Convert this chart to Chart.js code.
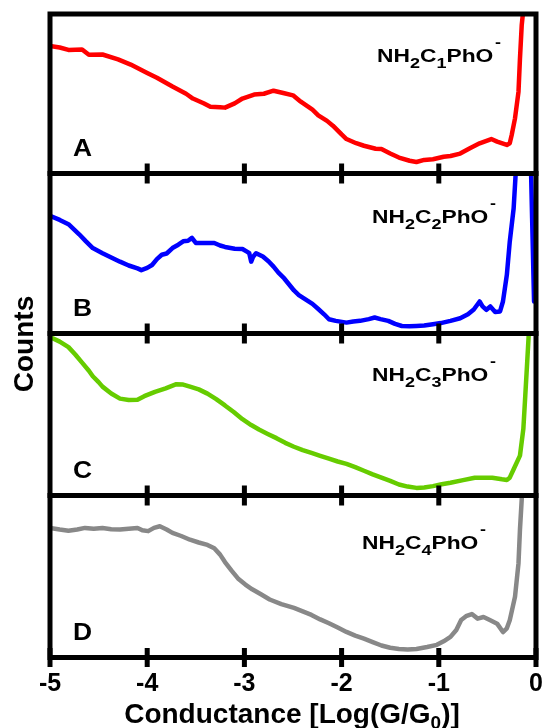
<!DOCTYPE html>
<html><head><meta charset="utf-8">
<script src="https://cdn.jsdelivr.net/npm/chart.js@4"></script>
<style>html,body{margin:0;padding:0;background:#fff}canvas{display:block}</style>
</head><body>
<canvas id="c" width="542" height="728"></canvas>
<script>
const FONT = '"Liberation Sans", Arial, Helvetica, sans-serif';
const xTicks = [-5, -4, -3, -2, -1, 0];
const panelLetters = ['A', 'B', 'C', 'D'];
const chainLengths = ['1', '2', '3', '4'];
const colors = ['#ff0000', '#0000ff', '#66cc00', '#888888'];

const xA = [-5.0,-4.9,-4.81,-4.67,-4.6,-4.46,-4.3,-4.17,-4.0,-3.9,-3.74,-3.6,-3.53,-3.42,-3.35,-3.25,-3.2,-3.1,-3.02,-2.9,-2.8,-2.7,-2.6,-2.5,-2.42,-2.3,-2.24,-2.15,-2.09,-2.0,-1.95,-1.85,-1.77,-1.65,-1.59,-1.5,-1.41,-1.3,-1.23,-1.15,-1.06,-0.95,-0.88,-0.78,-0.68,-0.58,-0.46,-0.40,-0.30,-0.27,-0.25,-0.216,-0.18,-0.165,-0.147,-0.13,-0.11];
const yA = [80,79,77.5,77.8,74.5,74.6,71.5,68.3,63,60,54.5,50,47,44,41.8,41.5,41.3,44,47,49.5,50,51.9,50.5,49,45,40,36.5,33,30,24.5,21.6,19,17.4,15.5,15.3,12.5,10,8,7.2,8.5,8.9,10.5,11,12.5,15.8,18.9,21.6,20,17.9,18.9,24.1,34.6,51.3,72,92.9,103,130];

const xB = [-5.0,-4.9,-4.81,-4.7,-4.63,-4.56,-4.46,-4.37,-4.28,-4.19,-4.1,-4.06,-4.0,-3.95,-3.9,-3.85,-3.8,-3.74,-3.68,-3.63,-3.58,-3.54,-3.5,-3.4,-3.31,-3.25,-3.2,-3.1,-3.02,-2.97,-2.95,-2.93,-2.91,-2.88,-2.81,-2.75,-2.7,-2.65,-2.59,-2.49,-2.44,-2.38,-2.3,-2.24,-2.18,-2.13,-2.06,-1.95,-1.88,-1.81,-1.72,-1.66,-1.6,-1.52,-1.45,-1.38,-1.3,-1.23,-1.15,-1.06,-0.98,-0.88,-0.78,-0.7,-0.64,-0.58,-0.55,-0.51,-0.47,-0.42,-0.37,-0.34,-0.3,-0.27,-0.23,-0.21,-0.17,-0.06,-0.04,-0.02];
const yB = [73.6,71,68.3,62,57.6,53.4,50.2,47.5,44.9,42.5,40.7,39.6,41,42.8,46.5,49.2,50,53.4,55.5,57.6,58,59.8,56.6,56.6,56.6,55,54.1,53,52.8,51,50.2,44.9,48,50.2,48.1,45,41.8,38,34.4,26.9,24,21.6,18.5,15.3,12,8.9,7.9,6.8,7.5,7.9,9,10,9,7.9,6,4.7,4.5,4.7,5,5.8,6.5,7.9,9.5,12,15,20,17,14.8,16.9,13.4,13.8,20,36.6,57.4,78.2,99,125,125,72,20];

const xC = [-5.0,-4.9,-4.81,-4.74,-4.67,-4.6,-4.56,-4.5,-4.46,-4.37,-4.28,-4.19,-4.1,-4.03,-3.92,-3.81,-3.7,-3.63,-3.56,-3.47,-3.38,-3.29,-3.2,-3.11,-3.02,-2.93,-2.85,-2.76,-2.67,-2.58,-2.49,-2.4,-2.31,-2.22,-2.13,-2.04,-1.95,-1.86,-1.77,-1.68,-1.59,-1.5,-1.41,-1.32,-1.23,-1.15,-1.06,-0.97,-0.88,-0.75,-0.63,-0.55,-0.45,-0.35,-0.3,-0.27,-0.23,-0.165,-0.13,-0.11,-0.09,-0.075,-0.06];
const yC = [97.9,95,91.6,87,82,77,73.6,70,67.2,63,59.8,59,59.1,61.3,64,66.1,68.7,68.5,67.2,65.5,62.9,59.5,55.6,51.5,47.1,43.5,40.7,38,35.4,32.5,30.1,28,26.3,24.5,22.7,21,19.5,17.5,15.3,13,11,9,6.8,5.5,4.7,5,5.8,7,7.9,9.5,11,11,11,10,9.6,11,16.2,24.6,41.2,62,82.9,99,120];

const xD = [-5.0,-4.9,-4.81,-4.72,-4.64,-4.55,-4.46,-4.37,-4.28,-4.19,-4.1,-4.05,-3.99,-3.93,-3.87,-3.8,-3.74,-3.65,-3.56,-3.47,-3.38,-3.31,-3.25,-3.2,-3.13,-3.06,-2.99,-2.92,-2.83,-2.74,-2.62,-2.49,-2.4,-2.31,-2.22,-2.13,-2.04,-1.95,-1.86,-1.77,-1.68,-1.59,-1.5,-1.41,-1.32,-1.23,-1.12,-1.02,-0.95,-0.88,-0.82,-0.77,-0.72,-0.66,-0.6,-0.54,-0.47,-0.4,-0.34,-0.3,-0.27,-0.216,-0.18,-0.165,-0.147,-0.13];
const yD = [80,79,78.3,79,80,79.5,80,79.2,79,79.5,80,78.5,78,80,81,79,76.9,75,72.7,71,69.5,67.4,63.5,58.9,53.5,48.4,45,42.1,39,35.8,33,30.6,28.5,26.3,23.5,21.1,18.5,15.8,13.5,11.6,9.5,7.4,6,5.3,5,5.3,6.5,7.8,10,12.7,17,23.2,25.5,26.8,24,25,23,20.9,15.7,18,23,37.5,58.2,78.9,97.5,120];

const panelIds = ['yA', 'yB', 'yC', 'yD'];
const panelWeights = [159.5, 160, 162, 162];
const seriesX = [xA, xB, xC, xD];
const seriesY = [yA, yB, yC, yD];

const datasets = panelIds.map((id, i) => ({
  data: seriesX[i].map((x, k) => ({ x: x, y: seriesY[i][k] })),
  yAxisID: id,
  xAxisID: 'x',
  borderColor: colors[i],
  borderWidth: 4.5,
  pointRadius: 0,
  tension: 0,
  borderJoinStyle: 'round',
  borderCapStyle: 'round',
  fill: false
}));

function yScale(w) {
  return {
    type: 'linear', position: 'left', stack: 'panels', stackWeight: w,
    min: 0, max: 100,
    ticks: { display: false },
    grid: { display: false, drawTicks: false },
    border: { display: false },
    afterFit(s) { s.width = 50; }
  };
}
const scales = {
  x: {
    type: 'linear', position: 'bottom', min: -5, max: 0,
    afterBuildTicks(s) { s.ticks = xTicks.map(v => ({ value: v })); },
    ticks: { color: '#000', font: { family: FONT, size: 25, weight: 'bold' }, padding: 12, maxRotation: 0, autoSkip: false },
    grid: { display: false, drawTicks: false },
    border: { display: false },
    afterFit(s) { s.height = 70.5; s.paddingLeft = 0; s.paddingRight = 0; }
  }
};
// stacked left axes are laid out in reverse definition order: define bottom panel first
[3, 2, 1, 0].forEach(i => { scales[panelIds[i]] = yScale(panelWeights[i]); });

function drawFormula(ctx, x, baseline, idx) {
  const F = 19, S = 15, sx = 1.2;
  ctx.save();
  ctx.translate(x, baseline);
  ctx.scale(sx, 1);
  ctx.fillStyle = '#000';
  ctx.textBaseline = 'alphabetic';
  ctx.textAlign = 'left';
  const parts = [['NH', 0, F, 0], ['2', 6, S, 0], ['C', 0, F, 0], [idx, 6, S, 0], ['PhO', 0, F, 0], ['-', -15, S, 1.5]];
  let cx = 0;
  parts.forEach(([t, dy, sz, gap]) => {
    ctx.font = 'bold ' + sz + 'px ' + FONT;
    cx += gap;
    ctx.fillText(t, cx, dy);
    cx += ctx.measureText(t).width;
  });
  ctx.restore();
}

const framePlugin = {
  id: 'frame',
  afterDatasetsDraw(chart) {
    const ctx = chart.ctx, ca = chart.chartArea, xs = chart.scales.x;
    ctx.save();
    ctx.strokeStyle = '#000';
    ctx.lineWidth = 5;
    panelIds.forEach(id => {
      const s = chart.scales[id];
      ctx.strokeRect(ca.left, s.top, ca.right - ca.left, s.bottom - s.top);
    });
    ctx.beginPath();
    panelIds.slice(1).forEach(id => {
      const b = chart.scales[id].top;
      xTicks.slice(1, -1).forEach(v => {
        const X = xs.getPixelForValue(v);
        ctx.moveTo(X, b - 10); ctx.lineTo(X, b + 10);
      });
    });
    const bottom = chart.scales[panelIds[3]].bottom;
    xTicks.forEach(v => {
      const X = xs.getPixelForValue(v);
      ctx.moveTo(X, bottom - 9.5); ctx.lineTo(X, bottom + 9.5);
    });
    ctx.stroke();
    ctx.restore();
  },
  afterDraw(chart) {
    const ctx = chart.ctx;
    ctx.save();
    ctx.fillStyle = '#000';
    const formulaPos = [[377, 62], [372, 223], [372, 381], [362, 549]];
    panelIds.forEach((id, i) => {
      const s = chart.scales[id];
      ctx.save();
      ctx.translate(73, s.bottom - 18);
      ctx.scale(1.1, 1);
      ctx.font = 'bold 24px ' + FONT;
      ctx.textAlign = 'left';
      ctx.textBaseline = 'alphabetic';
      ctx.fillText(panelLetters[i], 0, 0);
      ctx.restore();
      drawFormula(ctx, formulaPos[i][0], formulaPos[i][1], chainLengths[i]);
    });
    ctx.save();
    ctx.translate(33, 344);
    ctx.rotate(-Math.PI / 2);
    ctx.font = 'bold 28px ' + FONT;
    ctx.textAlign = 'center';
    ctx.textBaseline = 'alphabetic';
    ctx.fillText('Counts', 0, 0);
    ctx.restore();
    const F = 28, S = 19;
    const t1 = 'Conductance [Log(G/G', t2 = '0', t3 = ')]';
    ctx.font = 'bold ' + F + 'px ' + FONT;
    const w1 = ctx.measureText(t1).width, w3 = ctx.measureText(t3).width;
    ctx.font = 'bold ' + S + 'px ' + FONT;
    const w2 = ctx.measureText(t2).width;
    const x0 = 292 - (w1 + w2 + w3) / 2;
    const base = 723;
    ctx.textAlign = 'left';
    ctx.textBaseline = 'alphabetic';
    ctx.font = 'bold ' + F + 'px ' + FONT;
    ctx.fillText(t1, x0, base);
    ctx.font = 'bold ' + S + 'px ' + FONT;
    ctx.fillText(t2, x0 + w1, base + 6);
    ctx.font = 'bold ' + F + 'px ' + FONT;
    ctx.fillText(t3, x0 + w1 + w2, base);
    ctx.restore();
  }
};

new Chart(document.getElementById('c'), {
  type: 'line',
  data: { datasets: datasets },
  options: {
    responsive: false,
    animation: false,
    devicePixelRatio: 1,
    layout: { padding: { top: 14, right: 6, left: 0, bottom: 0 } },
    plugins: { legend: { display: false }, tooltip: { enabled: false }, title: { display: false } },
    scales: scales
  },
  plugins: [framePlugin]
});
</script>
</body></html>
